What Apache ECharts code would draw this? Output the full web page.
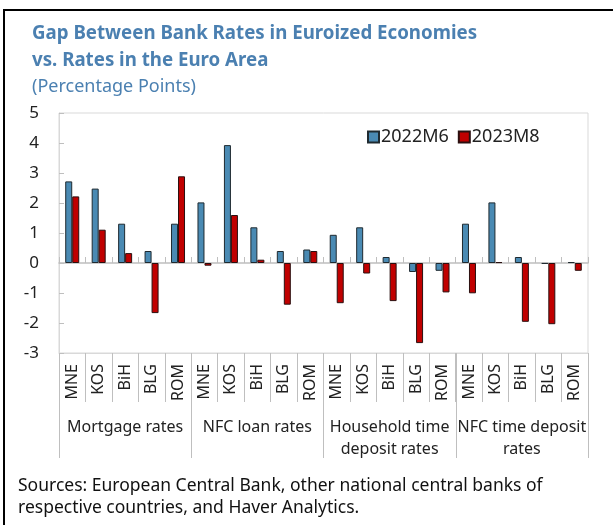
<!DOCTYPE html>
<html>
<head>
<meta charset="utf-8">
<script src="https://cdn.jsdelivr.net/npm/echarts@6/dist/echarts.min.js"></script>
<style>
  html, body { margin: 0; padding: 0; background: #fff; }
  #main { width: 613px; height: 525px; }
</style>
</head>
<body>
<div id="main"></div>
<script>
// countries per group (x axis)
var countries = ['MNE', 'KOS', 'BiH', 'BLG', 'ROM',
                 'MNE', 'KOS', 'BiH', 'BLG', 'ROM',
                 'MNE', 'KOS', 'BiH', 'BLG', 'ROM',
                 'MNE', 'KOS', 'BiH', 'BLG', 'ROM'];
var groups = ['Mortgage rates', 'NFC loan rates', 'Household time\ndeposit rates', 'NFC time deposit\nrates'];
var seriesNames = ['2022M6', '2023M8'];
// gap, percentage points
var jun2022 = [2.72, 2.48, 1.31, 0.40, 1.31,
               2.02, 3.93, 1.19, 0.40, 0.45,
               0.94, 1.19, 0.20, -0.30, -0.26,
               1.31, 2.02, 0.20, -0.03, 0.03];
var aug2023 = [2.22, 1.11, 0.33, -1.67, 2.89,
               -0.09, 1.60, 0.11, -1.39, 0.40,
               -1.34, -0.35, -1.27, -2.67, -0.98,
               -1.01, 0.03, -1.96, -2.04, -0.26];

var FONT = 'Noto Sans';
var gridLine = '#d9d9d9';
var tickCol = '#bfbfbf';

var myChart = echarts.init(document.getElementById('main'));

var option = {
    animation: false,
    textStyle: { fontFamily: FONT },
    title: [{
        text: 'Gap Between Bank Rates in Euroized Economies\nvs. Rates in the Euro Area',
        left: 27, top: 15,
        textStyle: { fontSize: 18.7, fontWeight: 'bold', color: '#4b80b1', lineHeight: 27, fontFamily: FONT }
    }, {
        text: '(Percentage Points)',
        left: 27, top: 73,
        textStyle: { fontSize: 18, fontWeight: 'normal', color: '#4b80b1', fontFamily: FONT }
    }],
    legend: {
        data: seriesNames,
        left: 362, top: 123,
        itemWidth: 11, itemHeight: 11, itemGap: 9,
        icon: 'rect',
        textStyle: { fontSize: 18, color: '#222', padding: [0, 0, 0, -3] }
    },
    grid: {
        left: 59, right: 25, top: 113, bottom: 172,
        show: true, borderColor: gridLine, borderWidth: 1,
        containLabel: false
    },
    xAxis: [{
        type: 'category',
        data: countries,
        position: 'bottom',
        axisLine: { onZero: false, lineStyle: { color: gridLine, width: 1 } },
        axisTick: { show: true, interval: 0, length: 49, lineStyle: { color: tickCol } },
        axisLabel: { interval: 0, rotate: 90, margin: 11, fontSize: 16, color: '#222' }
    }, {
        type: 'category',
        data: groups,
        position: 'bottom',
        axisLine: { show: false, onZero: false },
        axisTick: { show: true, interval: 0, length: 105, lineStyle: { color: tickCol } },
        axisLabel: { interval: 0, margin: 63, fontSize: 16, lineHeight: 22, color: '#222' }
    }, {
        type: 'category',
        data: countries,
        position: 'bottom',
        axisLine: { onZero: true, lineStyle: { color: tickCol, width: 1.5 } },
        axisTick: { show: true, interval: 0, inside: true, length: 6, lineStyle: { color: tickCol } },
        axisLabel: { show: false }
    }],
    yAxis: {
        type: 'value',
        min: -3, max: 5, interval: 1,
        axisLine: { show: true, lineStyle: { color: gridLine } },
        axisTick: { show: true, inside: true, length: 5, lineStyle: { color: tickCol } },
        axisLabel: { fontSize: 17, color: '#222', margin: 20 },
        splitLine: { show: false }
    },
    series: [{
        name: seriesNames[0],
        type: 'bar',
        xAxisIndex: 0,
        data: jun2022,
        barWidth: 7,
        barGap: '0%',
        itemStyle: { color: '#4a8ab3', borderColor: '#1f2a30', borderWidth: 1 }
    }, {
        name: seriesNames[1],
        type: 'bar',
        xAxisIndex: 0,
        data: aug2023,
        barWidth: 7,
        barGap: '0%',
        itemStyle: { color: '#c00000', borderColor: '#2a1010', borderWidth: 1 }
    }],
    graphic: [{
        type: 'rect',
        shape: { x: 4, y: 10, width: 700, height: 700 },
        style: { fill: null, stroke: '#000', lineWidth: 2 },
        silent: true
    }, {
        type: 'text',
        left: 18, top: 475,
        style: {
            text: 'Sources: European Central Bank, other national central banks of\nrespective countries, and Haver Analytics.',
            font: '17.5px "Noto Sans"',
            lineHeight: 22,
            fill: '#111'
        }
    }]
};

myChart.setOption(option);
</script>
</body>
</html>
